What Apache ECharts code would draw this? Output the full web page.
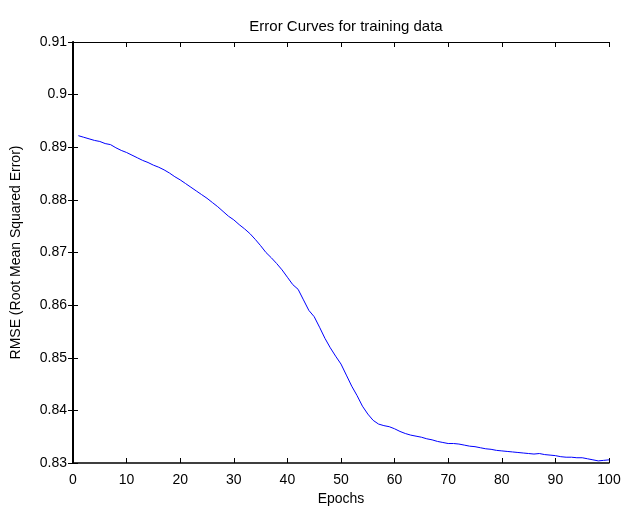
<!DOCTYPE html>
<html>
<head>
<meta charset="utf-8">
<script src="https://cdn.jsdelivr.net/npm/echarts@6/dist/echarts.min.js"></script>
<style>
  html, body { margin: 0; padding: 0; background: #fff; }
  #chart { width: 624px; height: 507px; }
</style>
</head>
<body>
<div id="chart"></div>
<script>
// epochs 1..100 and RMSE
const epochs = [
  1, 2, 3, 4, 5, 6, 7, 8, 9, 10,
  11, 12, 13, 14, 15, 16, 17, 18, 19, 20,
  21, 22, 23, 24, 25, 26, 27, 28, 29, 30,
  31, 32, 33, 34, 35, 36, 37, 38, 39, 40,
  41, 42, 43, 44, 45, 46, 47, 48, 49, 50,
  51, 52, 53, 54, 55, 56, 57, 58, 59, 60,
  61, 62, 63, 64, 65, 66, 67, 68, 69, 70,
  71, 72, 73, 74, 75, 76, 77, 78, 79, 80,
  81, 82, 83, 84, 85, 86, 87, 88, 89, 90,
  91, 92, 93, 94, 95, 96, 97, 98, 99, 100
];
const rmse = [
  0.8922, 0.8919, 0.8916, 0.8913, 0.8911, 0.8907, 0.8905, 0.8899, 0.8894, 0.8890,
  0.8885, 0.8880, 0.8875, 0.8871, 0.8866, 0.8862, 0.8857, 0.8851, 0.8844, 0.8838,
  0.8831, 0.8824, 0.8817, 0.8810, 0.8803, 0.8795, 0.8787, 0.8778, 0.8769, 0.8762,
  0.8753, 0.8745, 0.8736, 0.8725, 0.8713, 0.8700, 0.8690, 0.8679, 0.8667, 0.8653,
  0.8639, 0.8630, 0.8610, 0.8590, 0.8578, 0.8558, 0.8537, 0.8519, 0.8503, 0.8488,
  0.8467, 0.8446, 0.8428, 0.8408, 0.8393, 0.8381, 0.8374, 0.8371, 0.8369, 0.8365,
  0.8360, 0.8356, 0.8353, 0.8351, 0.8349, 0.8346, 0.8344, 0.8341, 0.8339, 0.8337,
  0.8337, 0.8336, 0.8334, 0.8332, 0.8331, 0.8329, 0.8327, 0.8326, 0.8324, 0.8323,
  0.8322, 0.8321, 0.8320, 0.8319, 0.8318, 0.8317, 0.8318, 0.8316, 0.8315, 0.8314,
  0.8312, 0.8311, 0.8311, 0.8310, 0.8310, 0.8308, 0.8306, 0.8304, 0.8305, 0.8306
];

const font = 'Arial, "Liberation Sans", sans-serif';

let myChart = echarts.init(document.getElementById('chart'));

const boxAxis = (width) => ({
  show: true,
  lineStyle: { color: '#000', width: width }
});
const inTick = { show: true, inside: true, length: 5, lineStyle: { color: '#000' } };

myChart.setOption({
  animation: false,
  backgroundColor: '#fff',
  title: {
    text: 'Error Curves for training data',
    left: 341,
    top: 14,
    textAlign: 'center',
    textStyle: { fontFamily: font, fontSize: 15, fontWeight: 'normal', color: '#000' }
  },
  grid: { left: 73, right: 15, top: 42, bottom: 44, outerBoundsMode: 'none' },
  xAxis: [
    {
      type: 'value', position: 'bottom', min: 0, max: 100, interval: 10,
      name: 'Epochs', nameLocation: 'middle', nameGap: 29,
      nameTextStyle: { fontFamily: font, fontSize: 14, color: '#000' },
      axisLine: boxAxis(1.5),
      axisTick: inTick,
      axisLabel: { margin: 10, fontFamily: font, fontSize: 14, color: '#000' },
      splitLine: { show: false }
    },
    {
      type: 'value', position: 'top', min: 0, max: 100, interval: 10,
      axisLine: boxAxis(1),
      axisTick: inTick,
      axisLabel: { show: false },
      splitLine: { show: false }
    }
  ],
  yAxis: [
    {
      type: 'value', position: 'left', min: 0.83, max: 0.91, interval: 0.01,
      name: 'RMSE (Root Mean Squared Error)', nameLocation: 'middle', nameGap: 50,
      nameTextStyle: { fontFamily: font, fontSize: 14, color: '#000' },
      axisLine: boxAxis(2),
      axisTick: inTick,
      axisLabel: { margin: 6, fontFamily: font, fontSize: 14, color: '#000' },
      splitLine: { show: false }
    },
    {
      type: 'value', position: 'right', min: 0.83, max: 0.91, interval: 0.01,
      axisLine: boxAxis(1),
      axisTick: inTick,
      axisLabel: { show: false },
      splitLine: { show: false }
    }
  ],
  series: [
    {
      type: 'line',
      xAxisIndex: 0,
      yAxisIndex: 0,
      data: epochs.map((e, i) => [e, rmse[i]]),
      showSymbol: false,
      lineStyle: { color: '#0000ff', width: 1 },
      itemStyle: { color: '#0000ff' }
    }
  ]
});
</script>
</body>
</html>
